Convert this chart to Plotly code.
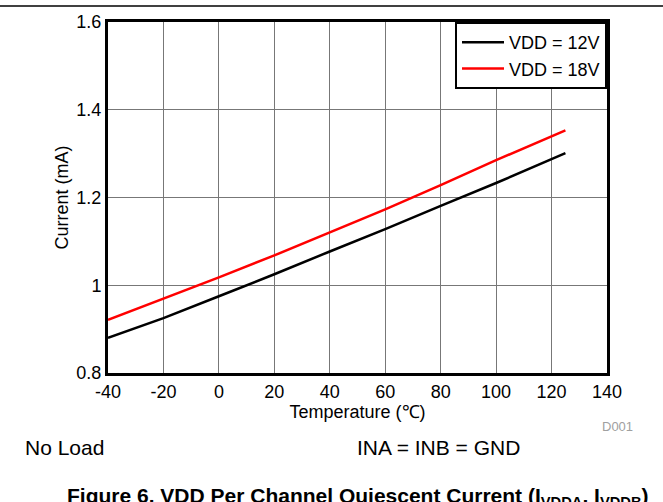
import plotly.graph_objects as go

# Quiescent current vs. temperature for the two supply voltages
temperature_c = [-40, -20, 0, 20, 40, 60, 80, 100, 125]
current_12v_ma = [0.880, 0.925, 0.975, 1.025, 1.077, 1.128, 1.181, 1.233, 1.301]
current_18v_ma = [0.921, 0.969, 1.018, 1.068, 1.120, 1.173, 1.228, 1.285, 1.353]

x_ticks = [-40, -20, 0, 20, 40, 60, 80, 100, 120, 140]
x_tick_text = ["-40", "-20", "0", "20", "40", "60", "80", "100", "120", "140"]
y_ticks = [0.8, 1.0, 1.2, 1.4, 1.6]
y_tick_text = ["0.8", "1", "1.2", "1.4", "1.6"]

FONT = "Liberation Sans, Arial, sans-serif"

fig = go.Figure()
fig.add_trace(go.Scatter(x=temperature_c, y=current_12v_ma, mode="lines",
                         name="VDD = 12V", line=dict(color="black", width=2.5)))
fig.add_trace(go.Scatter(x=temperature_c, y=current_18v_ma, mode="lines",
                         name="VDD = 18V", line=dict(color="#ff0000", width=2.5)))

fig.update_layout(
    width=663, height=502,
    margin=dict(l=108, r=56, t=22, b=129),
    paper_bgcolor="white", plot_bgcolor="white",
    font=dict(family=FONT, size=18, color="black"),
    showlegend=True,
    legend=dict(x=1.0, y=1.0, xanchor="right", yanchor="top",
                bordercolor="black", borderwidth=2, bgcolor="white",
                font=dict(size=18, family=FONT), tracegroupgap=0,
                itemwidth=42),
)

fig.update_xaxes(range=[-40, 140], tickvals=x_ticks, ticktext=x_tick_text, ticks="",
                 showline=True, linecolor="black", linewidth=3, mirror=True,
                 showgrid=True, gridcolor="#777777", gridwidth=1,
                 zeroline=False, tickfont=dict(size=18),
                 title=dict(text="Temperature (℃)", font=dict(size=18), standoff=2))
fig.update_yaxes(range=[0.8, 1.6], tickvals=y_ticks, ticktext=y_tick_text, ticks="",
                 showline=True, linecolor="black", linewidth=3, mirror=True,
                 showgrid=True, gridcolor="#777777", gridwidth=1,
                 zeroline=False, tickfont=dict(size=18),
                 title=dict(text="Current (mA)", font=dict(size=18), standoff=4))

def px_x(px):
    return (px - 108) / 499

def px_y(py):
    return (373 - py) / 351

fig.add_shape(type="line", xref="paper", yref="paper",
              x0=px_x(0), x1=px_x(663), y0=px_y(6), y1=px_y(6),
              line=dict(color="black", width=1.5))

notes = [
    dict(text="D001", x=px_x(600), y=px_y(426), xanchor="left",
         font=dict(size=13, color="#a0a0a0")),
    dict(text="No Load", x=px_x(23), y=px_y(448), xanchor="left",
         font=dict(size=21)),
    dict(text="INA = INB = GND", x=px_x(355), y=px_y(448), xanchor="left",
         font=dict(size=21)),
    dict(text="<b>Figure 6. VDD Per Channel Quiescent Current (I<sub>VDDA</sub>, I<sub>VDDB</sub>)</b>",
         x=px_x(65), y=px_y(497), xanchor="left", font=dict(size=21)),
]
for n in notes:
    fig.add_annotation(xref="paper", yref="paper", showarrow=False,
                       yanchor="middle", **n)

fig.write_html("out.html")
